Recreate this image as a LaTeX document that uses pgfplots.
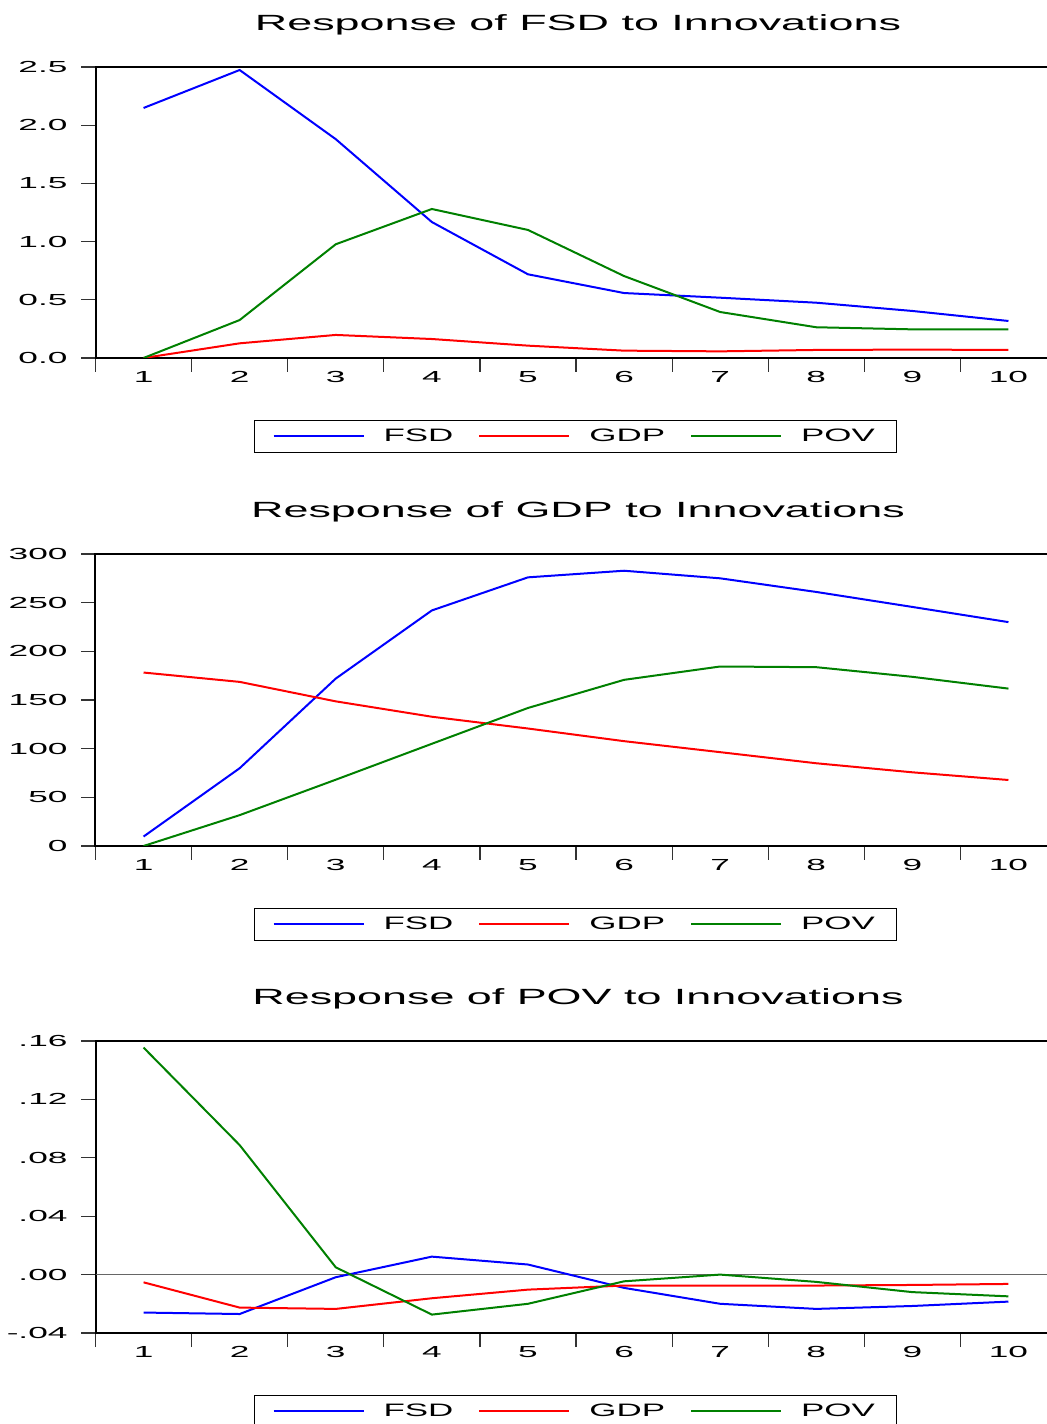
\documentclass[border=0pt]{standalone}
\usepackage{fontspec}
\setmainfont{Liberation Sans}[FakeStretch=1.85]
\newfontfamily\tickfont{Liberation Sans}[FakeStretch=2.2]
\newfontfamily\titlefont{Liberation Sans}[FakeStretch=2.04]
\newfontfamily\legfont{Liberation Sans}[FakeStretch=1.94]
\usepackage{pgfplots}
\pgfplotsset{compat=1.18}
\definecolor{evblue}{RGB}{0,0,255}
\definecolor{evred}{RGB}{255,0,0}
\definecolor{evgreen}{RGB}{0,128,0}

% ticks sit at the half periods, labels are moved to the whole periods
\pgfplotsset{
  irf/.style={
    scale only axis,
    width=480.5pt,
    anchor=south west,
    xmin=0.5, xmax=10.5,
    xtick={0.5,1.5,...,9.5},
    xticklabels={1,2,3,4,5,6,7,8,9,10},
    xticklabel style={xshift=24.025pt, yshift=3.8pt},
    xtick pos=left, ytick pos=left,
    tick align=outside,
    major tick length=7pt,
    tick style={draw=black!80, line width=0.6pt},
    axis line style={line width=1pt},
    tick label style={font=\tickfont\fontsize{8}{10}\selectfont},
    yticklabel style={xshift=-3.5pt},
    title style={at={(0.5,1)}, anchor=base, yshift=12.4pt, xshift=1pt,
      font=\titlefont\fontsize{11}{13}\selectfont},
    legend columns=3,
    legend style={at={(0.165,-0.213)}, anchor=north west, draw=black,
      line width=0.5pt, inner xsep=9pt, font=\legfont\fontsize{9}{11}\selectfont,
      /tikz/every odd column/.append style={column sep=7.5pt},
      /tikz/every even column/.append style={column sep=10.5pt}},
    legend image code/.code={\draw[##1] (0pt,0pt) -- (45pt,0pt);},
  }
}

\begin{document}
\begin{tikzpicture}
\useasboundingbox (0,0) rectangle (523.5pt,712pt);

% Response of FSD
\begin{axis}[irf, at={(47.75pt,533pt)}, height=145.5pt,
  title={Response of FSD to Innovations},
  ymin=0, ymax=2.5, ytick={0,0.5,...,2.5},
  yticklabels={0.0,0.5,1.0,1.5,2.0,2.5}]
\addplot[evblue, line width=1pt] coordinates {
  (1,2.148) (2,2.474) (3,1.880) (4,1.168) (5,0.719)
  (6,0.558) (7,0.518) (8,0.475) (9,0.404) (10,0.318)};
\addplot[evred, line width=1pt] coordinates {
  (1,0.0) (2,0.126) (3,0.198) (4,0.163) (5,0.106)
  (6,0.063) (7,0.057) (8,0.069) (9,0.072) (10,0.069)};
\addplot[evgreen, line width=1pt] coordinates {
  (1,0.0) (2,0.326) (3,0.977) (4,1.280) (5,1.100)
  (6,0.704) (7,0.395) (8,0.264) (9,0.246) (10,0.246)};
\legend{FSD,GDP,POV}
\end{axis}

% Response of GDP
\begin{axis}[irf, at={(47.75pt,289pt)}, height=146pt,
  title={Response of GDP to Innovations},
  ymin=0, ymax=300, ytick={0,50,...,300},
  yticklabels={0,50,100,150,200,250,300}]
\addplot[evblue, line width=1pt] coordinates {
  (1,9.7) (2,79.9) (3,172) (4,242) (5,276)
  (6,282.8) (7,275) (8,261) (9,245.6) (10,230)};
\addplot[evred, line width=1pt] coordinates {
  (1,178.2) (2,168.6) (3,148.6) (4,132.8) (5,120.7)
  (6,107.7) (7,96.4) (8,85) (9,75.7) (10,67.8)};
\addplot[evgreen, line width=1pt] coordinates {
  (1,0) (2,31.7) (3,68.1) (4,105) (5,141.8)
  (6,170.7) (7,184.4) (8,183.7) (9,173.8) (10,161.7)};
\legend{FSD,GDP,POV}
\end{axis}

% Response of POV
\begin{axis}[irf, at={(47.75pt,45.5pt)}, height=146pt,
  title={Response of POV to Innovations},
  ymin=-0.04, ymax=0.16, ytick={-0.04,0,0.04,0.08,0.12,0.16},
  yticklabels={-.04,.00,.04,.08,.12,.16}]
\addplot[gray!80!black, line width=0.5pt, forget plot] coordinates {(0.5,0) (10.5,0)};
\addplot[evblue, line width=1pt] coordinates {
  (1,-0.0260) (2,-0.0270) (3,-0.0018) (4,0.0123) (5,0.0069)
  (6,-0.0091) (7,-0.0200) (8,-0.0235) (9,-0.0215) (10,-0.0185)};
\addplot[evred, line width=1pt] coordinates {
  (1,-0.0053) (2,-0.0226) (3,-0.0235) (4,-0.0162) (5,-0.0103)
  (6,-0.0075) (7,-0.0075) (8,-0.0075) (9,-0.0071) (10,-0.0064)};
\addplot[evgreen, line width=1pt] coordinates {
  (1,0.1555) (2,0.0887) (3,0.0050) (4,-0.0274) (5,-0.0200)
  (6,-0.0046) (7,0.0000) (8,-0.0050) (9,-0.0120) (10,-0.0149)};
\legend{FSD,GDP,POV}
\end{axis}
\end{tikzpicture}
\end{document}
